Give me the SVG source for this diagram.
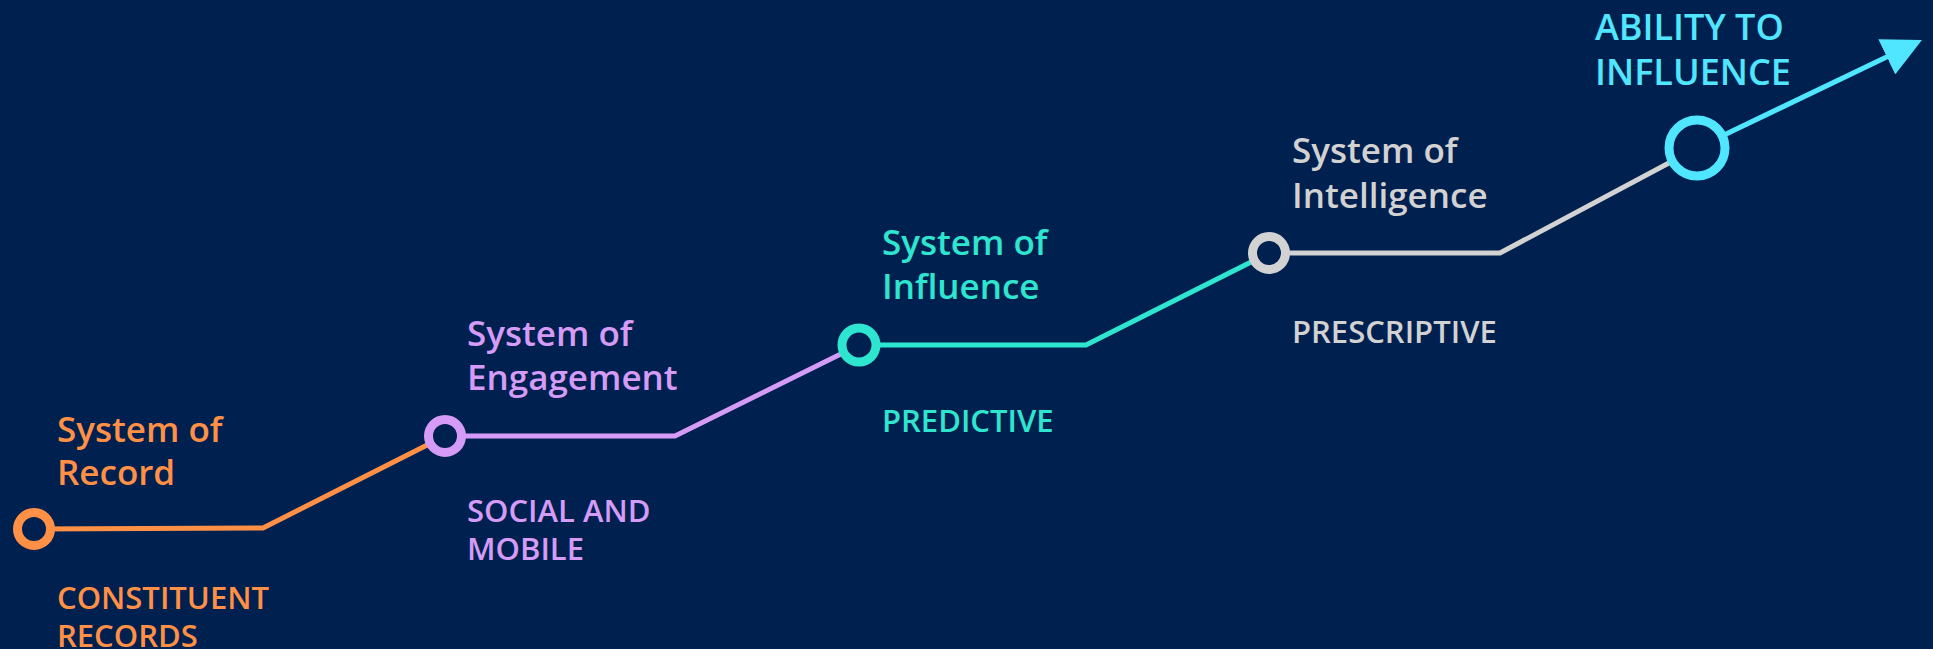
<svg xmlns="http://www.w3.org/2000/svg" width="1933" height="649" viewBox="0 0 1933 649">
<defs>
<style>
.t{font-family:"Open Sans","Noto Sans","Liberation Sans",sans-serif;font-weight:600}
.big{font-size:35px}
.cap{font-size:36px}
.small{font-size:31px}
.ln{fill:none;stroke-width:5;stroke-linejoin:miter}
.ring{fill:#00204F;stroke-width:9}
</style>
<marker id="arr" markerUnits="userSpaceOnUse" viewBox="0 0 39 39" markerWidth="39" markerHeight="39" refX="5" refY="19.5" orient="auto">
<path d="M0,0 L39,19.5 L0,39 Z" fill="#50E6FF"/>
</marker>
</defs>
<rect width="1933" height="649" fill="#00204F"/>
<g id="connectors">
<polyline class="ln" stroke="#FF9045" points="34,529 263,528 445,436"/>
<polyline class="ln" stroke="#D59BF6" points="445,436 675,436 859,345"/>
<polyline class="ln" stroke="#2EE6D0" points="859,345 1086,345 1269,253"/>
<polyline class="ln" stroke="#D2D2D2" points="1269,253 1500,253 1697,148"/>
<line class="ln" stroke="#50E6FF" x1="1697" y1="148" x2="1891.3" y2="54.7" marker-end="url(#arr)"/>
</g>
<g id="node-record">
<circle class="ring" stroke="#FF9045" cx="34" cy="529" r="16.5"/>
<text class="t big" fill="#FF9045" x="57" y="442">System of</text>
<text class="t big" fill="#FF9045" x="57" y="485">Record</text>
<text class="t small" fill="#FF9045" x="57" y="609">CONSTITUENT</text>
<text class="t small" fill="#FF9045" x="57" y="647">RECORDS</text>
</g>
<g id="node-engagement">
<circle class="ring" stroke="#D59BF6" cx="445" cy="436" r="16.5"/>
<text class="t big" fill="#D59BF6" x="467" y="346">System of</text>
<text class="t big" fill="#D59BF6" x="467" y="390">Engagement</text>
<text class="t small" fill="#D59BF6" x="467" y="522">SOCIAL AND</text>
<text class="t small" fill="#D59BF6" x="467" y="560">MOBILE</text>
</g>
<g id="node-influence">
<circle class="ring" stroke="#2EE6D0" cx="859" cy="345" r="17"/>
<text class="t big" fill="#2EE6D0" x="882" y="255">System of</text>
<text class="t big" fill="#2EE6D0" x="882" y="299">Influence</text>
<text class="t small" fill="#2EE6D0" x="882" y="432">PREDICTIVE</text>
</g>
<g id="node-intelligence">
<circle class="ring" stroke="#D2D2D2" cx="1269" cy="253" r="16.5"/>
<text class="t big" fill="#D2D2D2" x="1292" y="163">System of</text>
<text class="t big" fill="#D2D2D2" x="1292" y="208">Intelligence</text>
<text class="t small" fill="#D2D2D2" x="1292" y="343">PRESCRIPTIVE</text>
</g>
<g id="node-ability">
<circle class="ring" stroke="#50E6FF" cx="1697" cy="148" r="28" stroke-width="12"/>
<text class="t cap" fill="#50E6FF" x="1595" y="40">ABILITY TO</text>
<text class="t cap" fill="#50E6FF" x="1595" y="85">INFLUENCE</text>
</g>
</svg>
